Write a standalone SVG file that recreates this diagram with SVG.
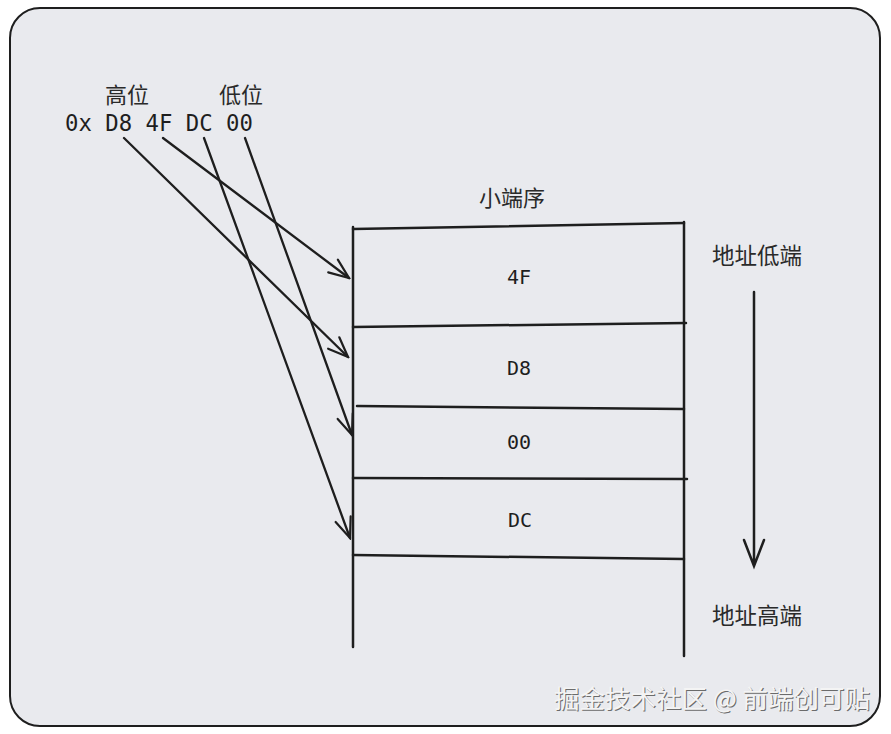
<svg xmlns="http://www.w3.org/2000/svg" width="891" height="734" viewBox="0 0 891 734">
<style>
.cjk{font-family:"Noto Sans CJK SC","Noto Sans",sans-serif;fill:#2a2a2a}
.mono{font-family:"DejaVu Sans Mono","Liberation Mono",monospace;fill:#1e1e1e}
.ln{stroke:#1e1e1e;stroke-width:2.5;fill:none;stroke-linecap:round}
.arr{stroke:#1e1e1e;stroke-width:2.3;fill:none;stroke-linecap:round;marker-end:url(#v)}
.wm{font-family:"Noto Sans CJK SC",sans-serif;font-size:25.5px}
</style>
<defs>
<marker id="v" viewBox="0 0 24 20" refX="22" refY="10" markerWidth="24" markerHeight="20" markerUnits="userSpaceOnUse" orient="auto">
<path d="M2 2 L22 10 L2 18" fill="none" stroke="#1e1e1e" stroke-width="2.2" stroke-linecap="round"/>
</marker>
</defs>
<rect width="891" height="734" fill="#ffffff"/>
<rect x="10" y="8" width="870" height="718" rx="30" fill="#e9eaee" stroke="#1e1e1e" stroke-width="2"/>
<g id="source">
<text class="cjk" x="127" y="103" font-size="22" text-anchor="middle">高位</text>
<text class="cjk" x="241" y="103" font-size="22" text-anchor="middle">低位</text>
<text class="mono" x="65" y="131" font-size="22.3">0x D8 4F DC 00</text>
</g>
<g id="memory">
<text class="cjk" x="512" y="206" font-size="22" text-anchor="middle">小端序</text>
<path class="ln" d="M353 227 L353 647 M684 222 L684 656"/>
<path class="ln" d="M353 229 L684 223"/>
<path class="ln" d="M353 327 L686 323"/>
<path class="ln" d="M357 406 L684 409"/>
<path class="ln" d="M353 478 L687 479"/>
<path class="ln" d="M353 555 L684 559"/>
</g>
<g id="cell-4F"><text class="mono" x="519" y="284" font-size="20" text-anchor="middle">4F</text></g>
<g id="cell-D8"><text class="mono" x="519" y="375" font-size="20" text-anchor="middle">D8</text></g>
<g id="cell-00"><text class="mono" x="519" y="449" font-size="20" text-anchor="middle">00</text></g>
<g id="cell-DC"><text class="mono" x="520" y="527" font-size="20" text-anchor="middle">DC</text></g>
<g id="addr">
<text class="cjk" x="757" y="264" font-size="22.5" text-anchor="middle">地址低端</text>
<text class="cjk" x="757" y="624" font-size="22.5" text-anchor="middle">地址高端</text>
<path class="ln" d="M754 292 L754 566 M744 540 L754 566 L764 540"/>
</g>
<g id="connectors">
<path class="arr" d="M124 138 L348 357"/>
<path class="arr" d="M163 138 L349 278"/>
<path class="arr" d="M204 138 L350 538"/>
<path class="arr" d="M245 138 L352 435"/>
</g>
<g id="watermark">
<text class="wm" x="871" y="709" text-anchor="end" fill="#6b6b6b">掘金技术社区 @ 前端创可贴</text>
<text class="wm" x="870" y="708" text-anchor="end" fill="#f4f4f4">掘金技术社区 @ 前端创可贴</text>
</g>
</svg>
